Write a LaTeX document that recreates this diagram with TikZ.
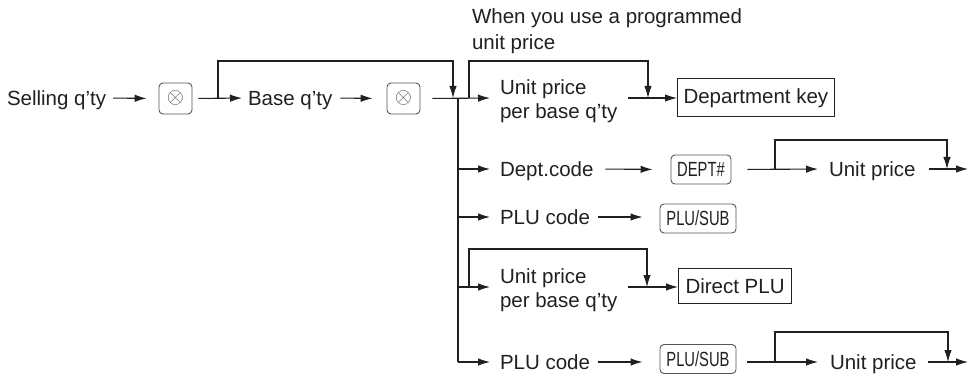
\documentclass[tikz,border=0pt]{standalone}
\usepackage{fontspec}
\usepackage{graphicx}
\setmainfont{Liberation Sans}
\usetikzlibrary{arrows.meta,calc}
\definecolor{ink}{HTML}{231F20}
\definecolor{keyline}{HTML}{555555}
\begin{document}
\begin{tikzpicture}[x=1pt,y=-1pt,
  txt/.style={inner sep=0pt, outer sep=0pt, anchor=base west, text=ink, font=\fontsize{20.5}{24}\selectfont},
  keybox/.style={draw=keyline, line width=0.9pt, rounded corners=4pt, inner sep=0pt, text=ink},
  mulkey/.style={keybox, minimum width=33pt, minimum height=31pt},
  codekey/.style={keybox, minimum height=29pt, font=\fontsize{20.5}{20.5}\selectfont},
  framebox/.style={draw=ink, line width=1pt, inner xsep=6pt, inner ysep=0pt, text=ink, font=\fontsize{20.5}{20.5}\selectfont},
  ln/.style={draw=ink, line width=1.1pt},
  arr/.style={ln, -{Latex[length=12pt,width=7.5pt]}},
]
\useasboundingbox (0,0) rectangle (968,374);

% ---- top row
\node[txt] (sell) at (7,105.5) {Selling q’ty};
\node[mulkey] (k1) at (175.5,98.5) {\textcolor{keyline}{\scalebox{2.2}{$\otimes$}}};
\node[txt] (base) at (248,105.5) {Base q’ty};
\node[mulkey] (k2) at (403.5,98.5) {\textcolor{keyline}{\scalebox{2.2}{$\otimes$}}};
\node[txt, align=left] (upp1) at (500,119) {Unit price\\per base q’ty};
\node[framebox, minimum height=38pt, anchor=west] (dk) at (677,98) {Department key};
\node[txt, align=left, font=\fontsize{20.5}{26}\selectfont] (note) at (472,50) {When you use a programmed\\unit price};

\coordinate (j0) at (458,98);
\coordinate (b1) at (218,98);
\coordinate (a1) at (453,98);
\coordinate (b2) at (469,98);
\coordinate (a2) at (648,98);

\draw[arr, shorten <=7pt, shorten >=12pt] (b1 -| sell.east) -- (k1.west);
\draw[arr, shorten <=6pt, shorten >=6pt] (k1.east) -- (b1 -| base.west);
\draw[arr] (b1) -- ++(0,-37) -| (a1);
\draw[arr, shorten <=8pt, shorten >=14pt] (b1 -| base.east) -- (k2.west);
\draw[arr, shorten <=12pt, shorten >=10pt] (k2.east) -- (j0 -| upp1.west);
\draw[arr] (b2) -- ++(0,-37) -| (a2);
\draw[arr, shorten <=11pt] (j0 -| upp1.east) -- (dk.west);

% ---- rows below
\coordinate (j2) at (458,169);
\coordinate (j3) at (458,217);
\coordinate (j4) at (458,287);
\coordinate (j5) at (458,362);
\draw[ln] (j0) -- (j5);

% Dept row
\node[txt] (dc) at (500,176.5) {Dept.code};
\node[codekey, minimum width=60pt] (dept) at (701,169.5) {\scalebox{0.72}[1]{DEPT\#}};
\node[txt] (up1) at (829,176.5) {Unit price};
\coordinate (end1) at (968,169);
\coordinate (b3) at (775,169);
\coordinate (a3) at (947,169);
\draw[arr, shorten >=10pt] (j2) -- (j2 -| dc.west);
\draw[arr, shorten <=12pt, shorten >=18pt] (j2 -| dc.east) -- (dept.west);
\draw[arr, shorten <=16pt, shorten >=11pt] (dept.east) -- (j2 -| up1.west);
\draw[arr] (b3) -- ++(0,-29) -| (a3);
\draw[arr, shorten <=13pt] (j2 -| up1.east) -- (end1);

% PLU row
\node[txt] (plu1) at (500,224.5) {PLU code};
\node[codekey, minimum width=76pt] (ps1) at (698,218.5) {\scalebox{0.72}[1]{PLU/SUB}};
\draw[arr, shorten >=10pt] (j3) -- (j3 -| plu1.west);
\draw[arr, shorten <=8pt, shorten >=17pt] (j3 -| plu1.east) -- (j3 -| ps1.west);

% Direct PLU row
\node[txt, align=left] (upp2) at (500,307) {Unit price\\per base q’ty};
\node[framebox, minimum height=35pt, inner xsep=7pt, anchor=west] (dp) at (678,286) {Direct PLU};
\coordinate (b4) at (469,287);
\coordinate (a4) at (647,287);
\draw[arr, shorten >=10pt] (j4) -- (j4 -| upp2.west);
\draw[arr] (b4) -- ++(0,-38) -| (a4);
\draw[arr, shorten <=11pt] (j4 -| upp2.east) -- (j4 -| dp.west);

% last PLU row
\node[txt] (plu2) at (500,369.5) {PLU code};
\node[codekey, minimum width=76pt] (ps2) at (698,359) {\scalebox{0.72}[1]{PLU/SUB}};
\node[txt] (up2) at (830,369.5) {Unit price};
\coordinate (end2) at (968,362);
\coordinate (b5) at (775,362);
\coordinate (a5) at (948,362);
\draw[arr, shorten >=10pt] (j5) -- (j5 -| plu2.west);
\draw[arr, shorten <=8pt, shorten >=17pt] (j5 -| plu2.east) -- (j5 -| ps2.west);
\draw[arr, shorten <=11pt, shorten >=12pt] (j5 -| ps2.east) -- (j5 -| up2.west);
\draw[arr] (b5) -- ++(0,-30) -| (a5);
\draw[arr, shorten <=11pt] (j5 -| up2.east) -- (end2);
\end{tikzpicture}
\end{document}
